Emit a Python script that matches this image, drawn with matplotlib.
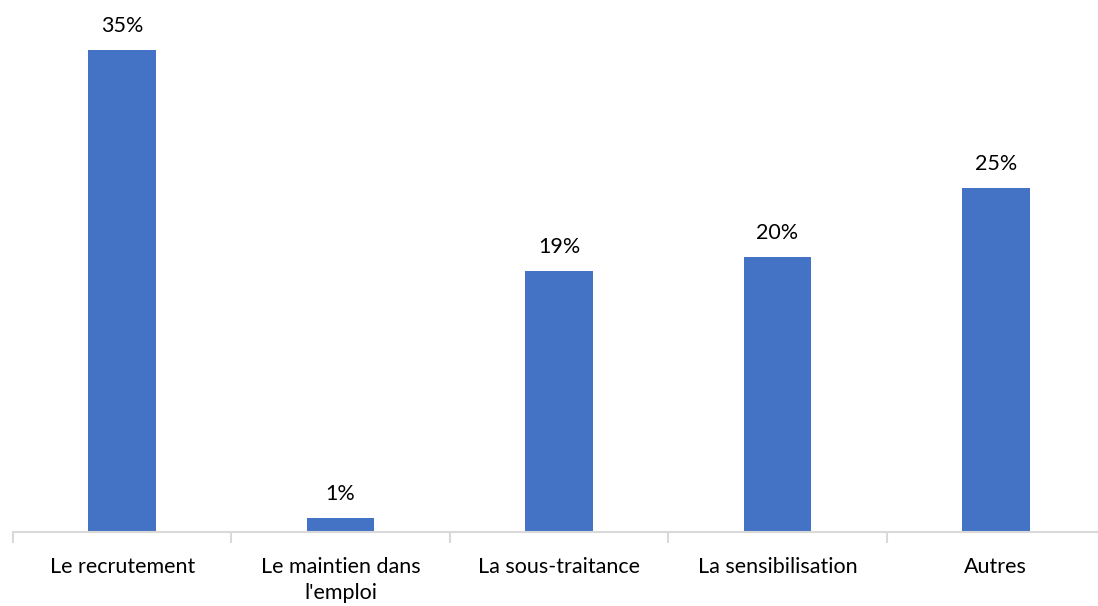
import numpy as np
import matplotlib.pyplot as plt

categories = ["Le recrutement", "Le maintien dans\nl'emploi", "La sous-traitance",
              "La sensibilisation", "Autres"]
values = [35, 1, 19, 20, 25]
value_labels = ["35%", "1%", "19%", "20%", "25%"]

plt.rcParams['font.family'] = ['Lato', 'DejaVu Sans']

fig = plt.figure(figsize=(10.98, 6.06), dpi=100)
ax = fig.add_axes([13 / 1098, 74 / 606, 1092 / 1098, 523 / 606])

x = np.arange(len(categories))
bars = ax.bar(x, values, width=0.31, color='#4472C4')

for b, lab in zip(bars, value_labels):
    ax.annotate(lab, (b.get_x() + b.get_width() / 2, b.get_height()),
                xytext=(0, 10), textcoords='offset points', ha='center', va='bottom',
                fontsize=15.5, color='#000000')

ax.set_xlim(-0.5, len(categories) - 0.5)
ax.set_ylim(0, 38)

for s in ['top', 'right', 'left']:
    ax.spines[s].set_visible(False)
ax.spines['bottom'].set_color('#D9D9D9')
ax.spines['bottom'].set_linewidth(1.5)
ax.set_yticks([])

ax.set_xticks(np.arange(-0.5, len(categories) + 0.5, 1.0))
ax.set_xticklabels([])
ax.tick_params(axis='x', which='major', length=8, width=1.5, color='#D9D9D9')
ax.set_xticks(x, minor=True)
ax.set_xticklabels(categories, minor=True, fontsize=15.5, color='#000000', va='top',
                   linespacing=1.4)
ax.tick_params(axis='x', which='minor', length=0, pad=18)

fig.savefig('out.png', dpi=100)
